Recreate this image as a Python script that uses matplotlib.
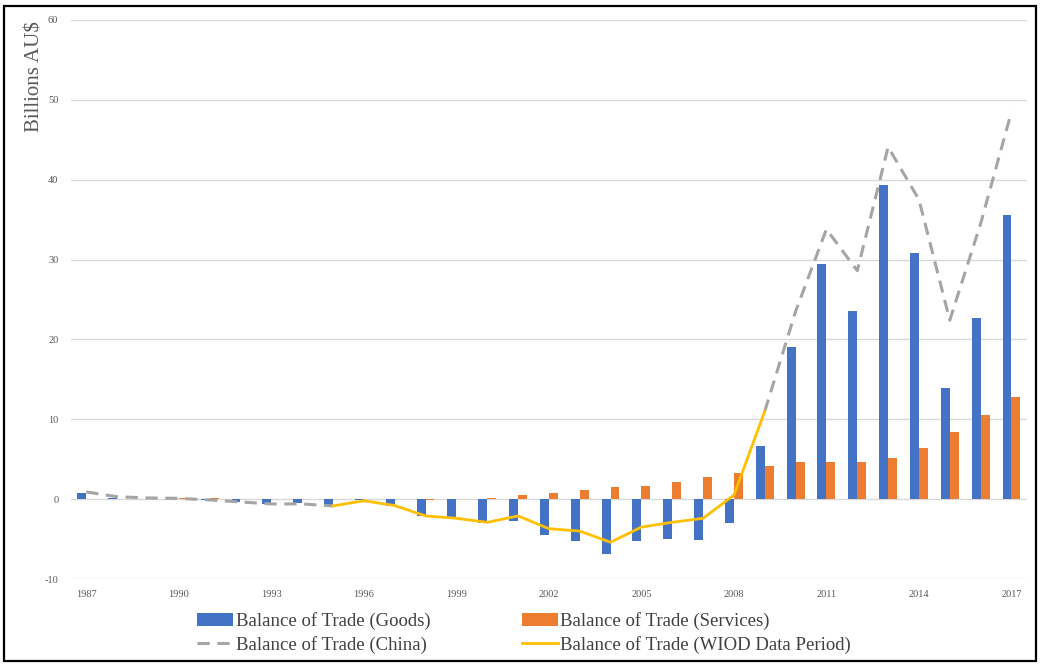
import numpy as np
import matplotlib.pyplot as plt
from matplotlib.patches import Rectangle

plt.rcParams['font.family'] = ['Liberation Serif', 'DejaVu Serif']
plt.rcParams['axes.unicode_minus'] = False

years = np.arange(1987, 2018)

# Balance of trade, billions AU$
goods = [0.8, 0.15, 0.0, 0.0, -0.05, -0.35, -0.6, -0.5, -0.7, -0.1,
         -0.8, -2.1, -2.4, -3.0, -2.75, -4.5, -5.2, -6.9, -5.2, -5.0,
         -5.1, -3.0, 6.7, 19.1, 29.4, 23.5, 39.3, 30.8, 13.9, 22.7, 35.6]
services = [0.0, 0.0, 0.05, 0.1, 0.1, 0.0, 0.0, 0.0, 0.0, 0.0,
            0.05, -0.1, 0.0, 0.1, 0.5, 0.8, 1.2, 1.5, 1.7, 2.1,
            2.75, 3.3, 4.1, 4.7, 4.7, 4.6, 5.1, 6.4, 8.4, 10.5, 12.8]

china_years = [1987, 1988, 1989, 1990, 1991, 1992, 1993, 1994, 1995,
               2009, 2010, 2011, 2012, 2013, 2014, 2015, 2016, 2017]
china = [0.9, 0.3, 0.15, 0.1, -0.1, -0.35, -0.6, -0.6, -0.85,
         11.0, 23.5, 33.8, 28.6, 44.1, 37.5, 22.4, 34.5, 48.5]

wiod_years = np.arange(1995, 2010)
wiod = [-0.85, -0.2, -0.8, -2.1, -2.4, -2.9, -2.1, -3.7, -4.0, -5.4,
        -3.5, -2.9, -2.4, 0.5, 11.0]

# split the China series into its two segments around the WIOD period
china_years = np.array(china_years)
china = np.array(china)
early = china_years <= 1995
china_x = np.concatenate([china_years[early], [np.nan], china_years[~early]])
china_y = np.concatenate([china[early], [np.nan], china[~early]])

fig = plt.figure(figsize=(10.42, 6.64), dpi=100)
ax = fig.add_axes([0.068, 0.128, 0.9175, 0.842])

w = 0.29
h_goods = ax.bar(years - w / 2, goods, width=w, color='#4472C4',
                 label='Balance of Trade (Goods)', zorder=2)
h_serv = ax.bar(years + w / 2, services, width=w, color='#ED7D31',
                label='Balance of Trade (Services)', zorder=2)
h_china, = ax.plot(china_x, china_y, color='#A5A5A5', lw=2.2, dashes=(4, 2.5),
                   label='Balance of Trade (China)', zorder=3)
h_wiod, = ax.plot(wiod_years, wiod, color='#FFC000', lw=2.0,
                  label='Balance of Trade (WIOD Data Period)', zorder=4)

ax.set_xlim(1986.5, 2017.5)
ax.set_ylim(-10, 60)
ax.set_yticks(np.arange(-10, 61, 10))
ax.set_xticks(np.arange(1987, 2018, 3))
ax.grid(axis='y', color='#D9D9D9', lw=1.0, zorder=0)
ax.tick_params(length=0, labelsize=7.5, labelcolor='#595959')
ax.tick_params(axis='x', pad=8)
ax.tick_params(axis='y', pad=9)
for s in ax.spines.values():
    s.set_visible(False)

fig.text(35 / 1042, 1 - 77 / 664, 'Billions AU$', rotation=90,
         ha='center', va='center', fontsize=15, color='#595959')

# legend fills column-wise: goods/china on the left, services/WIOD on the right
handles = [h_goods, h_china, h_serv, h_wiod]
fig.legend(handles, [h.get_label() for h in handles],
           loc='center', bbox_to_anchor=(0.503, 0.047), ncol=2, frameon=False,
           fontsize=13.5, labelcolor='#404040', handlelength=1.9, handletextpad=0.15,
           columnspacing=4.9, labelspacing=0.3)

fig.patches.append(Rectangle((4 / 1042, 3 / 664), 1032 / 1042, 655 / 664,
                             transform=fig.transFigure, fill=False,
                             edgecolor='black', lw=1.6))

fig.savefig('out.png', dpi=100)
